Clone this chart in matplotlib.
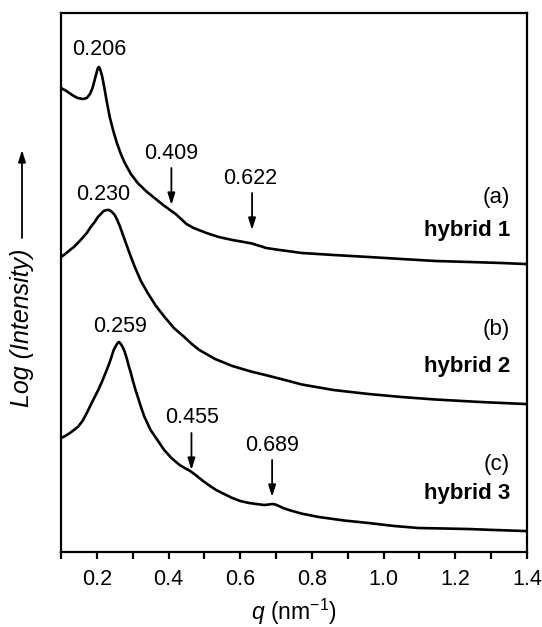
import numpy as np
from matplotlib import pyplot as plt

plt.rcParams['font.family'] = ['Liberation Sans', 'DejaVu Sans']
plt.rcParams['mathtext.fontset'] = 'custom'
plt.rcParams['mathtext.rm'] = 'Liberation Sans'
plt.rcParams['mathtext.it'] = 'Liberation Sans:italic'

# q (nm^-1) and log intensity (arbitrary offsets)
q_a = [0.100, 0.115, 0.131, 0.146, 0.161, 0.172, 0.181, 0.188, 0.194, 0.199,
       0.203, 0.206, 0.209, 0.214, 0.218, 0.222, 0.229, 0.236, 0.246, 0.256,
       0.267, 0.278, 0.295, 0.314, 0.340, 0.361, 0.385, 0.408, 0.420, 0.435,
       0.450, 0.470, 0.506, 0.540, 0.578, 0.610, 0.625, 0.633, 0.645, 0.660,
       0.672, 0.700, 0.772, 0.860, 0.958, 1.050, 1.144, 1.240, 1.328, 1.394]
i_a = [464, 461, 457, 454, 453, 454, 458, 464, 472, 479,
       484, 485, 483, 477, 470, 462, 448, 435, 421, 409,
       398, 389, 378, 369, 360, 354, 347, 341, 338, 333,
       328, 324, 319, 315, 312, 310, 309, 308.5, 307, 305.5,
       304, 302.5, 299, 297, 295, 293, 291, 290, 289, 288]

q_b = [0.100, 0.112, 0.125, 0.136, 0.147, 0.160, 0.172, 0.183, 0.194, 0.203,
       0.211, 0.219, 0.228, 0.234, 0.239, 0.245, 0.250, 0.257, 0.264, 0.271,
       0.278, 0.292, 0.306, 0.323, 0.342, 0.365, 0.389, 0.415, 0.444, 0.465,
       0.486, 0.530, 0.578, 0.630, 0.681, 0.730, 0.772, 0.860, 0.958, 1.050,
       1.144, 1.270, 1.394]
i_b = [295, 298, 302, 305, 309, 314, 319, 325, 330, 335,
       338, 341, 342, 342, 341, 339, 337, 332, 326, 319,
       312, 298, 285, 271, 259, 246, 235, 224, 215, 208,
       202, 193, 186, 180.5, 176, 171.5, 167.5, 162, 158, 155,
       152.5, 150, 148]

q_c = [0.100, 0.112, 0.125, 0.136, 0.147, 0.160, 0.172, 0.183, 0.194, 0.204,
       0.214, 0.222, 0.231, 0.239, 0.247, 0.253, 0.258, 0.262, 0.267, 0.272,
       0.278, 0.284, 0.289, 0.295, 0.300, 0.308, 0.317, 0.325, 0.333, 0.350,
       0.369, 0.388, 0.408, 0.431, 0.450, 0.456, 0.464, 0.472, 0.486, 0.500,
       0.516, 0.533, 0.555, 0.578, 0.600, 0.625, 0.645, 0.667, 0.680, 0.689,
       0.698, 0.708, 0.720, 0.736, 0.770, 0.819, 0.890, 0.958, 1.030, 1.097,
       1.170, 1.236, 1.310, 1.394]
i_c = [114, 116, 119, 122, 125, 131, 139, 147, 155, 162,
       170, 177, 185, 193, 202, 206, 209, 210, 208, 205,
       200, 193, 186, 179, 172, 162, 152, 143, 135, 122,
       112, 102, 94, 87, 83, 82, 80, 78, 74, 70,
       66, 62, 58, 54, 51, 49, 48, 47, 47.5, 48,
       47.5, 46, 44, 42, 38.5, 35, 31.5, 29, 26, 24,
       23.5, 23, 22, 21]

# peak labels
peak_labels = ['0.206', '0.230', '0.259']
peak_x = [0.208, 0.217, 0.264]
peak_y = [502, 357, 225]

# arrow labels
arrow_labels = ['0.409', '0.622', '0.455', '0.689']
arrow_x = [0.408, 0.633, 0.464, 0.689]
arrow_text_x = [0.408, 0.628, 0.467, 0.689]
arrow_text_y = [398, 373, 135, 107]
arrow_y0 = [384, 359, 119, 92]
arrow_y1 = [347, 322, 82, 55]

names = ['hybrid 1', 'hybrid 2', 'hybrid 3']
tags = ['(a)', '(b)', '(c)']
tag_y = [354, 222, 88]
name_y = [321, 185, 59]

fig = plt.figure(figsize=(5.42, 6.27), dpi=100)
ax = fig.add_axes([0.1125, 0.1196, 0.8598, 0.8597])

for q, i in [(q_a, i_a), (q_b, i_b), (q_c, i_c)]:
    ax.plot(q, i, color='black', lw=1.9, solid_joinstyle='round')

for t, x, y in zip(peak_labels, peak_x, peak_y):
    ax.text(x, y, t, ha='center', va='center', fontsize=15.5)

arrow_style = dict(arrowstyle='-|>,head_length=0.7,head_width=0.22',
                   color='black', lw=1.3, shrinkA=0, shrinkB=0)
for t, x, tx, ty, y0, y1 in zip(arrow_labels, arrow_x, arrow_text_x,
                                arrow_text_y, arrow_y0, arrow_y1):
    ax.text(tx, ty, t, ha='center', va='center', fontsize=15.5)
    ax.annotate('', xy=(x, y1), xytext=(x, y0), arrowprops=arrow_style)

for tag, name, ty, ny in zip(tags, names, tag_y, name_y):
    ax.text(1.352, ty, tag, ha='right', va='center', fontsize=16)
    ax.text(1.352, ny, name, ha='right', va='center', fontsize=16,
            fontweight='bold')

ax.set_xlim(0.1, 1.4)
ax.set_ylim(0, 539)
ax.set_xticks(np.arange(0.2, 1.41, 0.2))
ax.set_xticks(np.arange(0.1, 1.41, 0.1), minor=True)
ax.set_xticklabels(['%.1f' % v for v in np.arange(0.2, 1.41, 0.2)])
ax.tick_params(axis='x', which='both', direction='out', length=5, width=1.6,
               labelsize=15.5, pad=7)
ax.set_yticks([])
for s in ax.spines.values():
    s.set_linewidth(1.6)

ax.set_xlabel(r'$q$ (nm$^{-1}$)', fontsize=16.5, labelpad=5)

fig.text(0.0406, 0.477, 'Log (Intensity)', rotation=90, style='italic',
         ha='center', va='center', fontsize=18)
ax.annotate('', xy=(22, 477), xytext=(22, 389), xycoords='figure pixels',
            textcoords='figure pixels', arrowprops=arrow_style)

fig.savefig('out.png', dpi=100)
